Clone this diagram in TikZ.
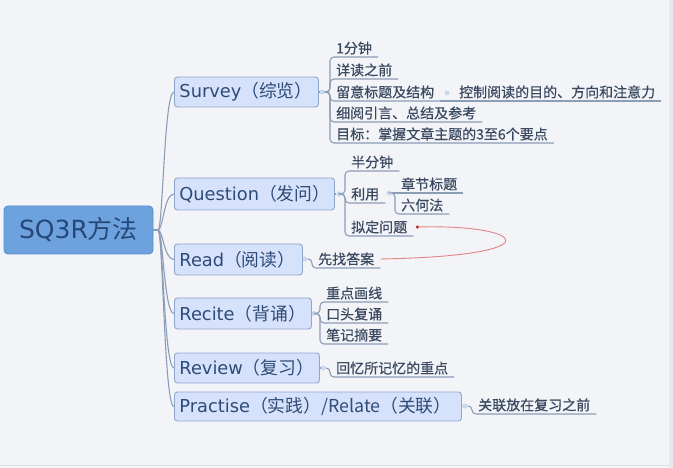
\documentclass[tikz,border=0pt]{standalone}
\usepackage{fontspec}
\setmainfont{DejaVu Sans}
\newfontfamily\cjk{Noto Sans CJK SC}
\newfontfamily\cjkb[FakeBold=0.5]{Noto Sans CJK SC}
\usetikzlibrary{calc}
\definecolor{bgc}{HTML}{F3F4F8}
\definecolor{linec}{HTML}{8C9DB6}
\definecolor{boxf}{HTML}{D6E2FB}
\definecolor{boxb}{HTML}{8FA6CB}
\definecolor{boxt}{HTML}{2E4B78}
\definecolor{rootf}{HTML}{6EA2DE}
\definecolor{rootb}{HTML}{5C8FCF}
\definecolor{roott}{HTML}{264878}
\definecolor{leaft}{HTML}{3A4860}
\definecolor{knobc}{HTML}{C9D8EE}
\definecolor{relc}{HTML}{E08585}
\definecolor{reddot}{HTML}{B83030}
\definecolor{edgec}{HTML}{E8E9EE}
\definecolor{edgel}{HTML}{DCDFE5}
\tikzset{
  conn/.style={draw=linec, line width=1.1pt},
  rootbox/.style={draw=rootb, fill=rootf, line width=0.9pt, rounded corners=4pt, text=roott,
    font=\fontsize{25}{29}\selectfont, inner sep=0pt},
  box/.style={draw=boxb, fill=boxf, line width=0.9pt, rounded corners=3pt, text=boxt,
    font=\fontsize{17.8}{20}\selectfont, inner xsep=5pt, inner ysep=0pt, align=left, anchor=west},
  leaf/.style={font=\cjkb\fontsize{14}{16}\selectfont, text=leaft, inner xsep=6pt, inner ysep=2.3pt, anchor=south west},
  knobdot/.style={circle, fill=knobc, inner sep=0pt, minimum size=5pt},
  rel/.style={draw=relc, line width=0.9pt},
}
\begin{document}
\begin{tikzpicture}[x=1pt,y=-1pt]
\path[use as bounding box, fill=bgc] (0,0) rectangle (673,468);
\fill[edgec] (669,0) rectangle (673,468);
\draw[edgel, line width=1pt] (0,465.5) -- (669,465.5);

% root and main branches
\node[rootbox, minimum width=149, minimum height=48] (root) at (78.5,230) {SQ3R\cjk{方法}};
\node[box, text width=134pt, minimum height=30] (survey) at (174,92) {Survey\cjk{（综览）}};
\node[box, text width=150pt, minimum height=32] (question) at (174,194) {Question\cjk{（发问）}};
\node[box, text width=118pt, minimum height=31] (read) at (174,259.5) {Read\cjk{（阅读）}};
\node[box, text width=127pt, minimum height=31] (recite) at (174,313.5) {Recite\cjk{（背诵）}};
\node[box, text width=135pt, minimum height=30] (review) at (174,368) {Review\cjk{（复习）}};
\node[box, text width=277pt, minimum height=29] (practise) at (174,406.5) {Practise\cjk{（实践）}/Relate\cjk{（关联）}};

\coordinate (j) at (158,230);
\draw[conn] (root.east) -- (j);
\foreach \b in {survey,question,read,recite,review,practise}
  \draw[conn] (j) .. controls +(5,0) and +(-10,0) .. (\b.west);

% knobs
\node[knobdot] (ks) at (322,92) {};
\node[knobdot] (ks3) at (447,93) {};
\node[knobdot] (kq) at (339,194) {};
\node[knobdot] (kq2) at (389,193) {};
\node[knobdot] (kr) at (305,259) {};
\node[knobdot] (kc) at (314,313.5) {};
\node[knobdot] (kv) at (323,368) {};
\node[knobdot] (kp) at (465,406) {};
\draw[conn] (survey.east) -- (ks);
\draw[conn] (question.east) -- (kq);
\draw[conn] (read.east) -- (kr);
\draw[conn] (recite.east) -- (kc);
\draw[conn] (review.east) -- (kv);
\draw[conn] (practise.east) -- (kp);

% Survey leaves
\node[leaf] (s1) at (330,57) {1分钟};
\node[leaf] (s2) at (330,79) {详读之前};
\node[leaf] (s3) at (330,101) {留意标题及结构};
\node[leaf] (s3a) at (453,101) {控制阅读的目的、方向和注意力};
\node[leaf] (s4) at (330,122) {细阅引言、总结及参考};
\node[leaf] (s5) at (330,143) {目标：掌握文章主题的3至6个要点};
\foreach \n in {s1,s2,s3,s4,s5}
  \draw[conn, rounded corners=4pt] (ks) -| (\n.south west) -- (\n.south east);
\draw[conn] (s3.south east) -- (s3a.south east);

% Question leaves
\node[leaf] (q1) at (345,171) {半分钟};
\node[leaf] (q2) at (345,203) {利用};
\node[leaf] (q3) at (345,236) {拟定问题};
\foreach \n in {q1,q2,q3}
  \draw[conn, rounded corners=4pt] (kq) -| (\n.south west) -- (\n.south east);
\node[leaf] (q2a) at (395,193) {章节标题};
\node[leaf] (q2b) at (395,214) {六何法};
\draw[conn] (kq2) -- (q2a.south west) -- (q2a.south east);
\draw[conn, rounded corners=4pt] (kq2) -| (q2b.south west) -- (q2b.south east);

% Read leaf
\node[leaf] (r1) at (312,268) {先找答案};
\draw[conn, rounded corners=4pt] (kr) -| (r1.south west) -- (r1.south east);

% Recite leaves
\node[leaf] (c1) at (320,302) {重点画线};
\node[leaf] (c2) at (320,323) {口头复诵};
\node[leaf] (c3) at (320,344) {笔记摘要};
\foreach \n in {c1,c2,c3}
  \draw[conn, rounded corners=4pt] (kc) -| (\n.south west) -- (\n.south east);

% Review leaf
\node[leaf] (v1) at (330,377) {回忆所记忆的重点};
\draw[conn, rounded corners=4pt] (kv) -| (v1.south west) -- (v1.south east);

% Practise leaf
\node[leaf] (p1) at (472,414) {关联放在复习之前};
\draw[conn, rounded corners=4pt] (kp) -| (p1.south west) -- (p1.south east);

% relationship
\coordinate (qd) at ($(q3.east)+(4,0)$);
\draw[rel] (r1.east) .. controls +(175,-3) and +(110,-3) .. (qd);
\fill[reddot] (qd) circle (1.8);
\end{tikzpicture}
\end{document}
